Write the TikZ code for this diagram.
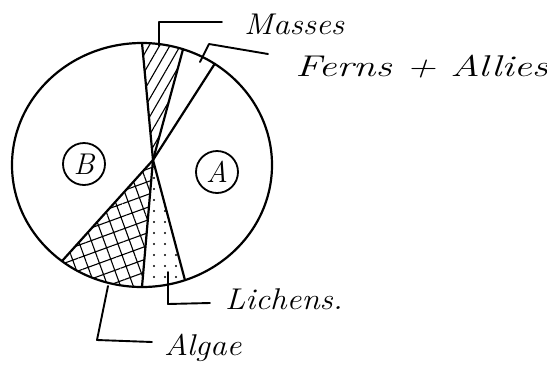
\documentclass[tikz,border=0pt]{standalone}
\usepackage{fontspec}
\usetikzlibrary{patterns.meta,shapes.geometric}
\begin{document}
\begin{tikzpicture}[x=1pt,y=-1pt,line width=2.2pt,line cap=round,line join=round,
  lbl/.style={font=\fontsize{30}{34}\selectfont\itshape,inner sep=0pt},
  ring/.style={draw,ellipse,minimum width=#1,minimum height=42pt,inner sep=0pt,line width=1.8pt},
  lead/.style={line width=1.9pt}]
\useasboundingbox (0,0) rectangle (547,376);
\coordinate (c) at (142,165);
\coordinate (hub) at (153,160);
\begin{scope}[shift={(c)}]
  % hatched sectors
  \fill[pattern={Lines[angle=60,distance=9pt,line width=1.1pt]}] (11,-5) -- (-90:130 and 122) arc (-90:-71.6:130 and 122) -- cycle;
  \fill[pattern={Hatch[angle=20,distance=12pt,line width=1.1pt]}] (11,-5) -- (90:130 and 122) arc (90:128:130 and 122) -- cycle;
  \fill[pattern={Dots[distance=11pt,radius=1.1pt]}] (11,-5) -- (70.7:130 and 122) arc (70.7:90:130 and 122) -- cycle;
  \draw (0,0) ellipse (130 and 122);
  \coordinate (m1) at (-90:130 and 122);
  \coordinate (m2) at (-71.6:130 and 122);
  \coordinate (f2) at (-56:130 and 122);
  \coordinate (l2) at (70.7:130 and 122);
  \coordinate (a1) at (90:130 and 122);
  \coordinate (a2) at (128:130 and 122);
\end{scope}
\foreach \p in {m1,m2,f2,l2,a1,a2} \draw (hub) -- (\p);
% circled labels
\node[ring=42pt] (A) at (217,172) {\fontsize{30}{32}\selectfont\itshape A};
\node[ring=42pt] (B) at (84,164) {\fontsize{30}{32}\selectfont\itshape B};
% text labels
\node[lbl,anchor=west,xscale=1.1] (mo) at (243,24) {Masses};
\node[lbl,anchor=west,xscale=1.35] (fe) at (294,67) {Ferns + Allies};
\node[lbl,anchor=west,xscale=1.1] (li) at (224,299) {Lichens.};
\node[lbl,anchor=west,xscale=1.1] (al) at (163,348) {Algae};
% leaders
\coordinate (mo0) at (159,46);
\draw[lead] (mo0) -- (159,22) -- (222,22);
\coordinate (fe0) at (200,62);
\draw[lead] (fe0) -- (209,44) -- (268,54);
\coordinate (li0) at (168,272);
\draw[lead] (li0) -- (168,304) -- (210,303);
\coordinate (al0) at (108,286);
\draw[lead] (al0) -- (97,340) -- (152,342);
\end{tikzpicture}
\end{document}
